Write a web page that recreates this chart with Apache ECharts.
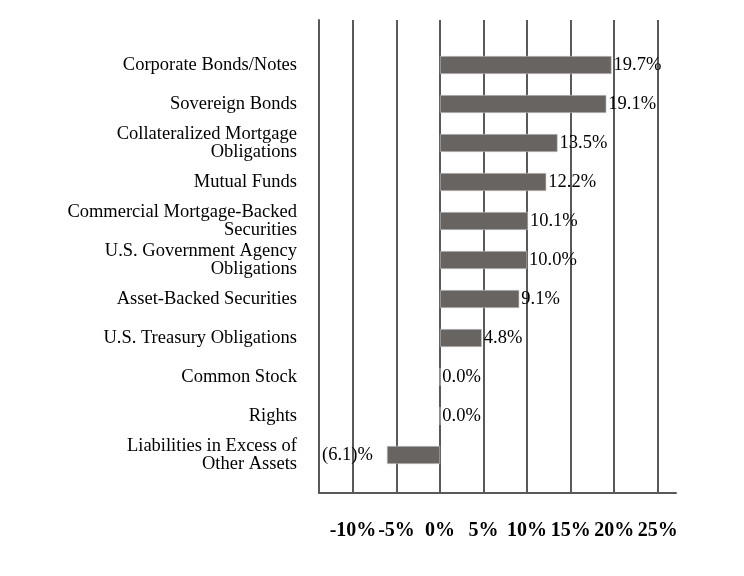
<!DOCTYPE html>
<html>
<head>
<meta charset="utf-8">
<script src="https://cdn.jsdelivr.net/npm/echarts@6/dist/echarts.min.js"></script>
<style>html,body{margin:0;padding:0;background:#fff}#c{width:744px;height:576px}</style>
</head>
<body>
<div id="c"></div>
<script>
const categories = [
  "Corporate Bonds/Notes",
  "Sovereign Bonds",
  "Collateralized Mortgage\nObligations",
  "Mutual Funds",
  "Commercial Mortgage-Backed\nSecurities",
  "U.S. Government Agency\nObligations",
  "Asset-Backed Securities",
  "U.S. Treasury Obligations",
  "Common Stock",
  "Rights",
  "Liabilities in Excess of\nOther Assets"
];
const values = [19.7, 19.1, 13.5, 12.2, 10.1, 10.0, 9.1, 4.8, 0.0, 0.0, -6.1];
const tickValues = [-10, -5, 0, 5, 10, 15, 20, 25];
const xMin = -13.9, xMax = 27.1;

const lineColor = '#595959';
const serif = '"Liberation Serif", "DejaVu Serif", serif';

const chart = echarts.init(document.getElementById('c'));
chart.setOption({
  animation: false,
  backgroundColor: '#fff',
  grid: [
    {left: 319, right: 68, top: 20, bottom: 83},
    {left: 319, right: 68, top: 45.5, height: 429}
  ],
  xAxis: [
    {
      gridIndex: 0, type: 'value', min: xMin, max: xMax,
      axisLine: {show: true, onZero: false, lineStyle: {color: lineColor, width: 2}},
      axisTick: {show: false, customValues: tickValues},
      splitLine: {show: true, lineStyle: {color: lineColor, width: 2}},
      axisLabel: {
        customValues: tickValues, margin: 28,
        color: '#000', fontFamily: serif, fontWeight: 'bold', fontSize: 20,
        formatter: v => v + '%'
      }
    },
    {
      gridIndex: 1, type: 'value', min: xMin, max: xMax, show: false
    }
  ],
  yAxis: [
    {
      gridIndex: 0, type: 'value', min: 0, max: 1,
      axisLine: {show: true, onZero: false, lineStyle: {color: lineColor, width: 2}},
      axisTick: {show: false}, axisLabel: {show: false}, splitLine: {show: false}
    },
    {
      gridIndex: 1, type: 'category', data: categories, inverse: true,
      axisLine: {show: false}, axisTick: {show: false}, splitLine: {show: false},
      axisLabel: {
        margin: 22, color: '#000', fontFamily: serif, fontSize: 18.5, lineHeight: 18.5,
        align: 'right', padding: [3, 0, 0, 0]
      }
    }
  ],
  series: [{
    type: 'bar',
    xAxisIndex: 1, yAxisIndex: 1,
    data: values.map(v => v < 0 ? {value: v, label: {position: 'left', distance: 14}} : v),
    barWidth: 18,
    itemStyle: {color: '#686462', borderColor: '#c8c8c8', borderWidth: 0.6},
    label: {
      show: true, position: 'right', distance: 2, padding: [4, 0, 0, 0],
      color: '#000', fontFamily: serif, fontSize: 18.5,
      formatter: p => p.value < 0 ? '(' + Math.abs(p.value).toFixed(1) + ')%' : p.value.toFixed(1) + '%'
    }
  }]
});
</script>
</body>
</html>
